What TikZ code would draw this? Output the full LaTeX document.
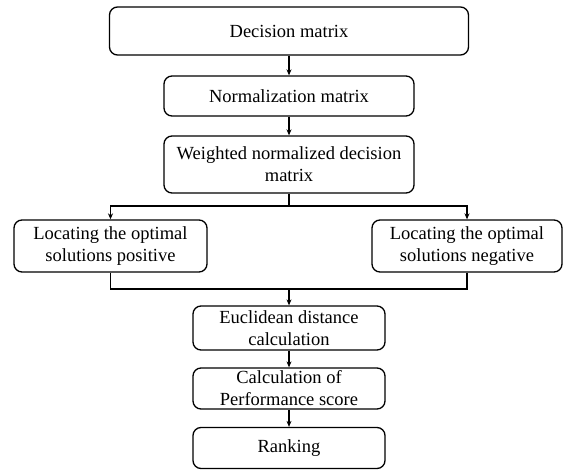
\documentclass[tikz,border=0pt]{standalone}
\usepackage{fontspec}
\setmainfont{Liberation Serif}
\usetikzlibrary{arrows.meta}
\begin{document}
\begin{tikzpicture}[x=1pt,y=-1pt,
  stepbox/.style={draw, line width=1.3pt, rounded corners=8pt, align=center,
    inner sep=0pt, font=\fontsize{18.5}{22}\selectfont},
  flow/.style={line width=1.3pt},
  arr/.style={flow, -{Stealth[length=6pt,width=5pt]}}]
\useasboundingbox (0,0) rectangle (564,470);

% main column
\node[stepbox, minimum width=359pt, minimum height=48pt] (dec) at (289,31) {Decision matrix};
\node[stepbox, minimum width=250pt, minimum height=40pt] (norm) at (289,96) {Normalization matrix};
\node[stepbox, minimum width=250pt, minimum height=57pt] (wgt) at (289,164.5) {Weighted normalized decision\\matrix};

% ideal solutions
\node[stepbox, minimum width=193pt, minimum height=52pt] (pos) at (110.5,246) {Locating the optimal\\solutions positive};
\node[stepbox, minimum width=190pt, minimum height=52pt] (neg) at (467,246) {Locating the optimal\\solutions negative};

% lower column
\node[stepbox, minimum width=192pt, minimum height=44pt] (euc) at (289,328) {Euclidean distance\\calculation};
\node[stepbox, minimum width=192pt, minimum height=41pt] (perf) at (289,388.5) {Calculation of\\Performance score};
\node[stepbox, minimum width=192pt, minimum height=41pt] (rank) at (289,448) {Ranking};

\coordinate (split) at (289,206);
\coordinate (join) at (289,289);

\draw[arr] (dec) -- (norm);
\draw[arr] (norm) -- (wgt);
\draw[flow] (wgt.south) -- (split);
\draw[arr] (split) -| (pos.north);
\draw[arr] (split) -| (neg.north);
\draw[flow] (pos.south) |- (join);
\draw[flow] (neg.south) |- (join);
\draw[arr] (join) -- (euc.north);
\draw[arr] (euc) -- (perf);
\draw[arr] (perf) -- (rank);
\end{tikzpicture}
\end{document}
